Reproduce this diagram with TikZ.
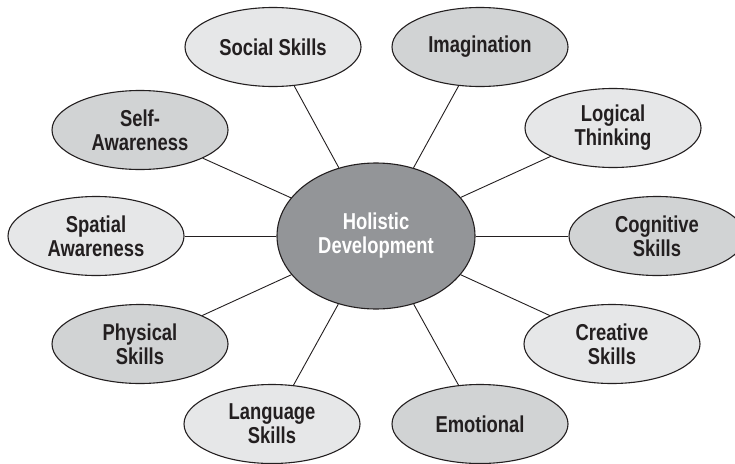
\documentclass[tikz,border=0pt]{standalone}
\usepackage{fontspec}
\newfontfamily\condfont[FakeStretch=0.8]{Liberation Sans}
\usetikzlibrary{shapes.geometric}
\definecolor{lightgrey}{RGB}{230,231,232}
\definecolor{midgrey}{RGB}{209,211,212}
\definecolor{hubgrey}{RGB}{147,149,152}
\definecolor{inkgrey}{RGB}{35,31,32}

\begin{document}
\begin{tikzpicture}[x=1pt, y=-1pt,
    bubble/.style={ellipse, draw=inkgrey, line width=1.1pt, inner sep=0pt,
        minimum width=176pt, minimum height=79pt, align=center, text=inkgrey,
        font=\condfont\bfseries\fontsize{23}{24}\selectfont},
    lightbub/.style={bubble, fill=lightgrey},
    darkbub/.style={bubble, fill=midgrey},
    hub/.style={bubble, fill=hubgrey, text=white, minimum width=198pt, minimum height=146pt},
    spoke/.style={draw=inkgrey, line width=0.9pt}]
    \clip (0,0) rectangle (735,463);
    \node[hub] (hol) at (376, 236) {Holistic\\Development};
    \node[lightbub] (social) at (273, 47) {Social Skills};
    \node[darkbub] (imag) at (480, 47) {Imagination};
    \node[darkbub] (self) at (140, 130) {Self-\\Awareness};
    \node[lightbub] (logic) at (613, 128) {Logical\\Thinking};
    \node[lightbub] (spatial) at (96, 236) {Spatial\\Awareness};
    \node[darkbub] (cogn) at (657, 236) {Cognitive\\Skills};
    \node[darkbub] (phys) at (140, 344) {Physical\\Skills};
    \node[lightbub] (creat) at (612, 344) {Creative\\Skills};
    \node[lightbub] (lang) at (272, 424) {Language\\Skills};
    \node[darkbub] (emot) at (480, 424) {Emotional};
    \foreach \n in {social, imag, self, logic, spatial, cogn, phys, creat, lang, emot}
        \draw[spoke] (hol) -- (\n);
\end{tikzpicture}
\end{document}
